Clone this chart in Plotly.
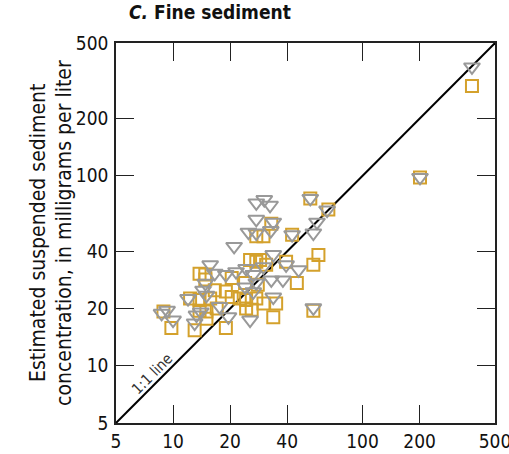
import plotly.graph_objects as go

# Orange squares
sq_x = [53, 66, 33, 27.5, 30, 42.5, 58.5, 55, 25.5, 27.5, 31, 39.5, 45, 14.8, 14.8, 20.4, 24, 28,
        16.6, 19, 20.4, 15.7, 12.3, 13.8, 22.5, 24.3, 27.5, 30, 35, 24.3, 26, 17, 15, 8.9, 33.8,
        9.8, 13, 19, 15, 55, 13.8, 13.8, 28.8, 378, 201]
sq_y = [76, 66.5, 56, 48, 48, 49, 38.3, 34, 36, 35.3, 34, 35.3, 27.3, 30.2, 28.5, 29, 27.3, 26.7,
        25, 24.6, 23, 22.6, 22.6, 22.2, 22.6, 22.2, 22.6, 21.3, 21.3, 20, 19.7, 20, 19.3, 19.3, 18,
        15.8, 15.4, 15.8, 17.7, 19.5, 19.5, 30.5, 36, 297, 98]

# Gray downward triangles
tri_x = [27.5, 30.3, 32.5, 27.5, 25, 27.5, 32.8, 33.8, 42.5, 55, 57.5, 53, 21, 33.8, 39.5, 46,
         15.7, 16.6, 19, 21.5, 24.3, 26.5, 30, 33, 38, 14.8, 14.4, 15, 24, 26.5, 27.5, 33.8, 12,
         17.6, 19.6, 25.5, 13.3, 14, 9.3, 8.7, 10, 13, 55, 65, 378, 201]
tri_y = [72, 75, 70, 59, 50.5, 50, 51.5, 57, 49, 50, 57, 76, 42.5, 38.5, 34, 32,
         34, 30.7, 30.2, 31.3, 32.5, 30.2, 33.2, 28.3, 28.3, 27.2, 25, 23.5, 26, 24.5, 27.3, 23, 22.6,
         20.5, 18.1, 17.4, 18.5, 19.2, 19.6, 18.9, 17.4, 16.8, 20.2, 66, 374, 98]

line_x = [5, 500]
line_y = [5, 500]
tick_vals = [5, 10, 20, 40, 100, 200, 500]
tick_text = ["5", "10", "20", "40", "100", "200", "500"]

FONT = "DejaVu Sans Condensed, Liberation Sans Narrow, sans-serif"
ORANGE = "#D4A12C"
GRAY = "#999999"

fig = go.Figure()
fig.add_trace(go.Scatter(x=line_x, y=line_y, mode="lines",
                         line=dict(color="black", width=2), showlegend=False, hoverinfo="skip"))
fig.add_trace(go.Scatter(x=sq_x, y=sq_y, mode="markers", showlegend=False,
                         marker=dict(symbol="square-open", size=12, color=ORANGE,
                                     line=dict(color=ORANGE, width=2))))
fig.add_trace(go.Scatter(x=tri_x, y=tri_y, mode="markers", showlegend=False,
                         marker=dict(symbol="triangle-down-open", size=14, color=GRAY,
                                     line=dict(color=GRAY, width=2))))

axis_common = dict(type="log", tickmode="array", tickvals=tick_vals, ticktext=tick_text,
                   ticks="inside", ticklen=18, tickwidth=1.3, tickcolor="#222",
                   showline=True, linecolor="#222", linewidth=1.5, mirror="allticks",
                   showgrid=False, zeroline=False, ticklabeloverflow="allow", automargin=False,
                   tickfont=dict(family=FONT, size=19, color="#111"))

fig.update_xaxes(range=[0.69895, 2.69900], ticklabelstandoff=0, **axis_common)
fig.update_yaxes(range=[0.69895, 2.69900], ticklabelstandoff=2, **axis_common)

fig.add_annotation(x=0.029, y=1.0816, xref="paper", yref="paper", xanchor="left", yanchor="middle",
                   text="<b><i>C.</i> Fine sediment</b>", showarrow=False,
                   font=dict(family=FONT, size=19, color="#111"))
fig.add_annotation(x=-0.2058, y=0.5, xref="paper", yref="paper", xanchor="center", yanchor="middle",
                   text="Estimated suspended sediment",
                   textangle=-90, showarrow=False,
                   font=dict(family=FONT, size=21, color="#111"))
fig.add_annotation(x=-0.1372, y=0.5, xref="paper", yref="paper", xanchor="center", yanchor="middle",
                   text="concentration, in milligrams per liter",
                   textangle=-90, showarrow=False,
                   font=dict(family=FONT, size=21, color="#111"))
fig.add_annotation(x=0.889, y=0.957, xref="x", yref="y", text="1:1 line", textangle=-45,
                   showarrow=False, font=dict(family=FONT, size=15, color="#333"))

fig.update_layout(width=509, height=454, margin=dict(l=116, r=14, t=43, b=31),
                  plot_bgcolor="white", paper_bgcolor="white")

fig.write_html("out.html")
